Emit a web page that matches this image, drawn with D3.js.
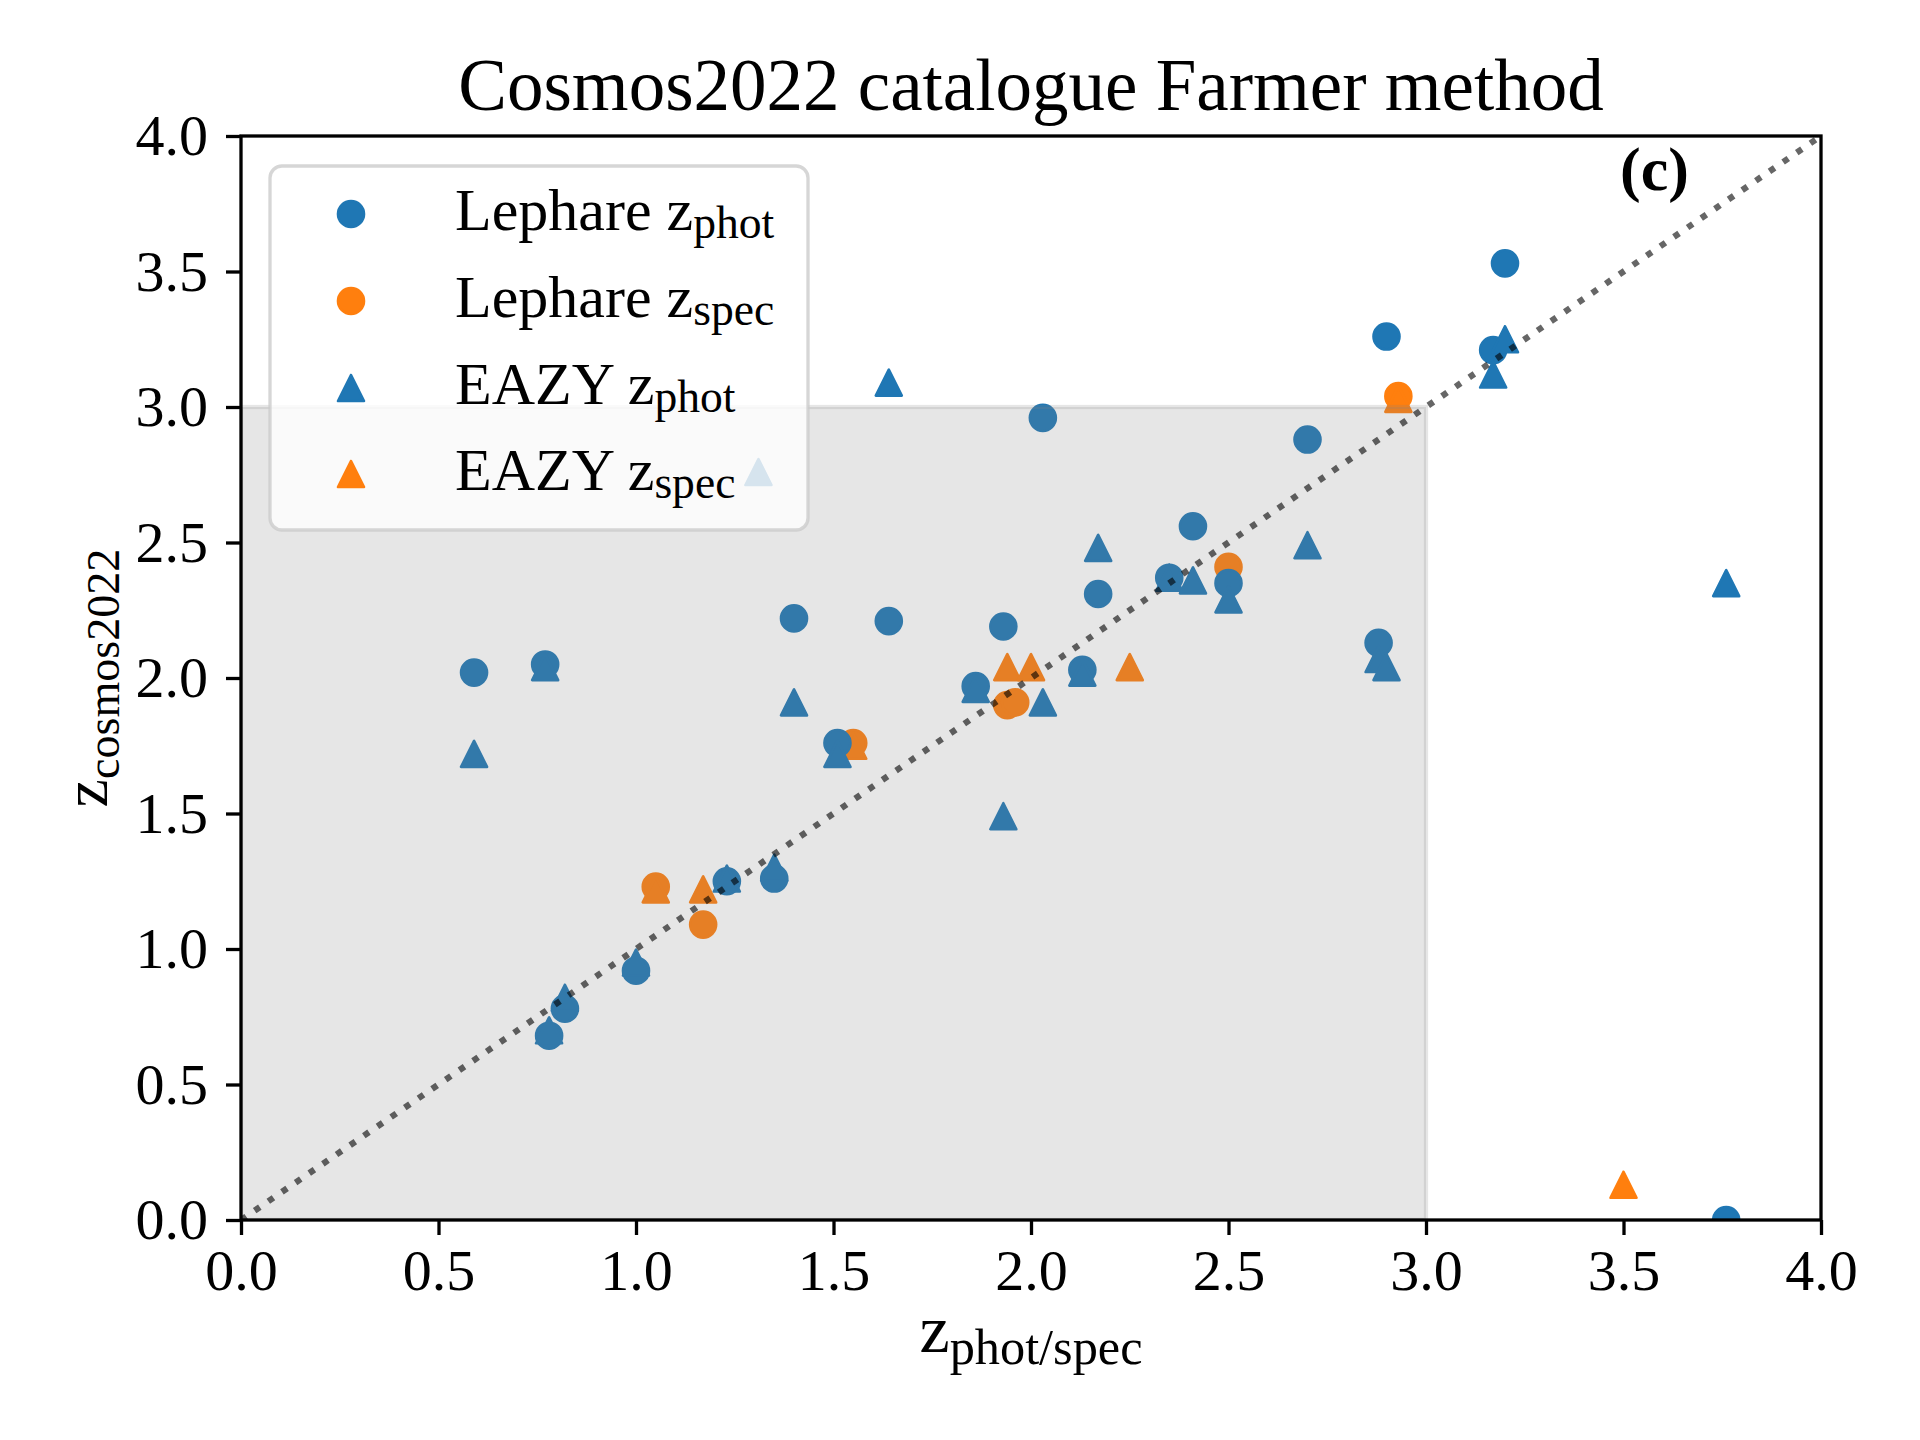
<!DOCTYPE html>
<html>
<head>
<meta charset="utf-8">
<script src="https://cdn.jsdelivr.net/npm/d3@7"></script>
<style>
  html, body { margin: 0; padding: 0; background: #ffffff; }
  svg { display: block; }
  text { font-family: "Liberation Serif", "Times New Roman", serif; fill: #000; }
</style>
</head>
<body>
<svg id="chart" width="1920" height="1440"></svg>
<script>
// ---------------- data ----------------
const tickValues = [0.0, 0.5, 1.0, 1.5, 2.0, 2.5, 3.0, 3.5, 4.0];

const lephareZphotX = [0.59, 0.77, 0.78, 0.82, 1.00, 1.23, 1.35, 1.40, 1.51, 1.64, 1.86, 1.93, 2.03, 2.13, 2.17, 2.35, 2.41, 2.50, 2.70, 2.88, 2.90, 3.17, 3.20, 3.76];
const lephareZphotY = [2.02, 2.05, 0.68, 0.78, 0.92, 1.25, 1.26, 2.22, 1.76, 2.21, 1.97, 2.19, 2.96, 2.03, 2.31, 2.37, 2.56, 2.35, 2.88, 2.13, 3.26, 3.21, 3.53, 0.00];

const lephareZspecX = [1.05, 1.17, 1.55, 1.94, 1.96, 2.50, 2.93];
const lephareZspecY = [1.23, 1.09, 1.76, 1.90, 1.91, 2.41, 3.04];

const eazyZphotX = [0.59, 0.77, 0.78, 0.82, 1.00, 1.23, 1.31, 1.35, 1.40, 1.51, 1.64, 1.86, 1.93, 2.03, 2.13, 2.17, 2.35, 2.41, 2.50, 2.70, 2.88, 2.90, 3.17, 3.20, 3.76];
const eazyZphotY = [1.72, 2.04, 0.70, 0.82, 0.95, 1.26, 2.76, 1.30, 1.91, 1.72, 3.09, 1.96, 1.49, 1.91, 2.02, 2.48, 2.37, 2.36, 2.29, 2.49, 2.07, 2.04, 3.12, 3.25, 2.35];

const eazyZspecX = [1.05, 1.17, 1.55, 1.94, 2.00, 2.25, 2.93, 3.50];
const eazyZspecY = [1.22, 1.22, 1.75, 2.04, 2.04, 2.04, 3.03, 0.13];

const shadeMax = 3.0;          // shaded region [0,3] x [0,3]
const diagonal = [0, 4];       // one-to-one line

const blue = "#1f77b4", orange = "#ff7f0e";

const seriesList = [
  {name: "Lephare", sub: "phot", xs: lephareZphotX, ys: lephareZphotY, color: blue,   marker: "circle"},
  {name: "Lephare", sub: "spec", xs: lephareZspecX, ys: lephareZspecY, color: orange, marker: "circle"},
  {name: "EAZY",    sub: "phot", xs: eazyZphotX,    ys: eazyZphotY,    color: blue,   marker: "triangle"},
  {name: "EAZY",    sub: "spec", xs: eazyZspecX,    ys: eazyZspecY,    color: orange, marker: "triangle"}
];

// ---------------- layout ----------------
const L = 241, R = 1821, T = 136, B = 1220;
const svg = d3.select("#chart");
const x = d3.scaleLinear().domain([0, 4]).range([L, R]);
const y = d3.scaleLinear().domain([0, 4]).range([B, T]);

svg.append("defs").append("clipPath").attr("id", "axclip")
  .append("rect").attr("x", L).attr("y", T).attr("width", R - L).attr("height", B - T);

const triangleType = {
  draw(ctx, size) {
    const s = Math.sqrt(size) / 2;
    ctx.moveTo(0, -s); ctx.lineTo(-s, s); ctx.lineTo(s, s); ctx.closePath();
  }
};
const markerSize = 26;
function markerPath(kind) {
  if (kind === "circle") return d3.symbol().type(d3.symbolCircle).size(Math.PI * (markerSize / 2) ** 2)();
  return d3.symbol().type(triangleType).size(markerSize * markerSize)();
}

const plot = svg.append("g").attr("clip-path", "url(#axclip)");

// draw order: orange circles, orange triangles, blue circles, blue triangles
const drawOrder = [seriesList[1], seriesList[3], seriesList[0], seriesList[2]];
drawOrder.forEach(s => {
  const pts = s.xs.map((v, i) => [v, s.ys[i]]);
  plot.append("g").selectAll("path").data(pts).join("path")
    .attr("d", markerPath(s.marker))
    .attr("transform", d => `translate(${x(d[0])},${y(d[1])})`)
    .attr("fill", s.color).attr("stroke", s.color)
    .attr("stroke-width", 2.6).attr("stroke-linejoin", "round");
});

// shaded region drawn on top (alpha gray)
plot.append("rect")
  .attr("x", x(0)).attr("y", y(shadeMax))
  .attr("width", x(shadeMax) - x(0)).attr("height", y(0) - y(shadeMax))
  .attr("fill", "#808080").attr("fill-opacity", 0.2)
  .attr("stroke", "#808080").attr("stroke-opacity", 0.2).attr("stroke-width", 4.2);

// dotted one-to-one line
plot.append("line")
  .attr("x1", x(diagonal[0])).attr("y1", y(diagonal[0]))
  .attr("x2", x(diagonal[1])).attr("y2", y(diagonal[1]))
  .attr("stroke", "#000").attr("stroke-opacity", 0.6)
  .attr("stroke-width", 6.25).attr("stroke-dasharray", "6.25 10.3").attr("stroke-linecap", "butt");

// ---------------- axes ----------------
const fmt = d3.format(".1f");
const xAxis = svg.append("g").attr("transform", `translate(0,${B})`)
  .call(d3.axisBottom(x).tickValues(tickValues).tickFormat(fmt).tickSizeInner(15).tickSizeOuter(0).tickPadding(14));
const yAxis = svg.append("g").attr("transform", `translate(${L},0)`)
  .call(d3.axisLeft(y).tickValues(tickValues).tickFormat(fmt).tickSizeInner(15).tickSizeOuter(0).tickPadding(18));
[xAxis, yAxis].forEach(a => {
  a.select(".domain").remove();
  a.selectAll(".tick line").attr("stroke", "#000").attr("stroke-width", 3.3);
  a.selectAll(".tick text").attr("font-size", 58).attr("font-family", "Liberation Serif").attr("fill", "#000");
});

svg.append("rect").attr("x", L).attr("y", T).attr("width", R - L).attr("height", B - T)
  .attr("fill", "none").attr("stroke", "#000").attr("stroke-width", 3.3);

// ---------------- text helpers ----------------
function subText(sel, main, sub, size, subScale, shift) {
  sel.attr("font-size", size);
  sel.append("tspan").text(main);
  sel.append("tspan").attr("font-size", size * subScale).attr("dy", shift).text(sub);
  return sel;
}

// title
svg.append("text").attr("x", (L + R) / 2).attr("y", 110).attr("text-anchor", "middle")
  .attr("font-size", 73).text("Cosmos2022 catalogue Farmer method");

// x label
subText(svg.append("text").attr("x", (L + R) / 2).attr("y", 1352).attr("text-anchor", "middle"),
  "z", "phot/spec", 68, 0.74, 12);

// y label
subText(svg.append("text").attr("transform", `translate(107,${(T + B) / 2}) rotate(-90)`).attr("text-anchor", "middle"),
  "z", "cosmos2022", 64, 0.72, 12);

// panel label
svg.append("text").attr("x", 1620).attr("y", 190).attr("font-size", 62).attr("font-weight", "bold").text("(c)");

// ---------------- legend ----------------
const lg = svg.append("g");
lg.append("rect").attr("x", 270).attr("y", 166).attr("width", 538).attr("height", 364)
  .attr("rx", 12).attr("ry", 12)
  .attr("fill", "#ffffff").attr("fill-opacity", 0.8)
  .attr("stroke", "#cccccc").attr("stroke-opacity", 0.8).attr("stroke-width", 3.3);
const rowY = [214, 301, 388, 474];
seriesList.forEach((s, i) => {
  lg.append("path").attr("d", markerPath(s.marker))
    .attr("transform", `translate(351,${rowY[i]})`)
    .attr("fill", s.color).attr("stroke", s.color).attr("stroke-width", 2.6).attr("stroke-linejoin", "round");
  subText(lg.append("text").attr("x", 455).attr("y", rowY[i] + 16),
    s.name + " z", s.sub, 60, 0.76, 8);
});
</script>
</body>
</html>
